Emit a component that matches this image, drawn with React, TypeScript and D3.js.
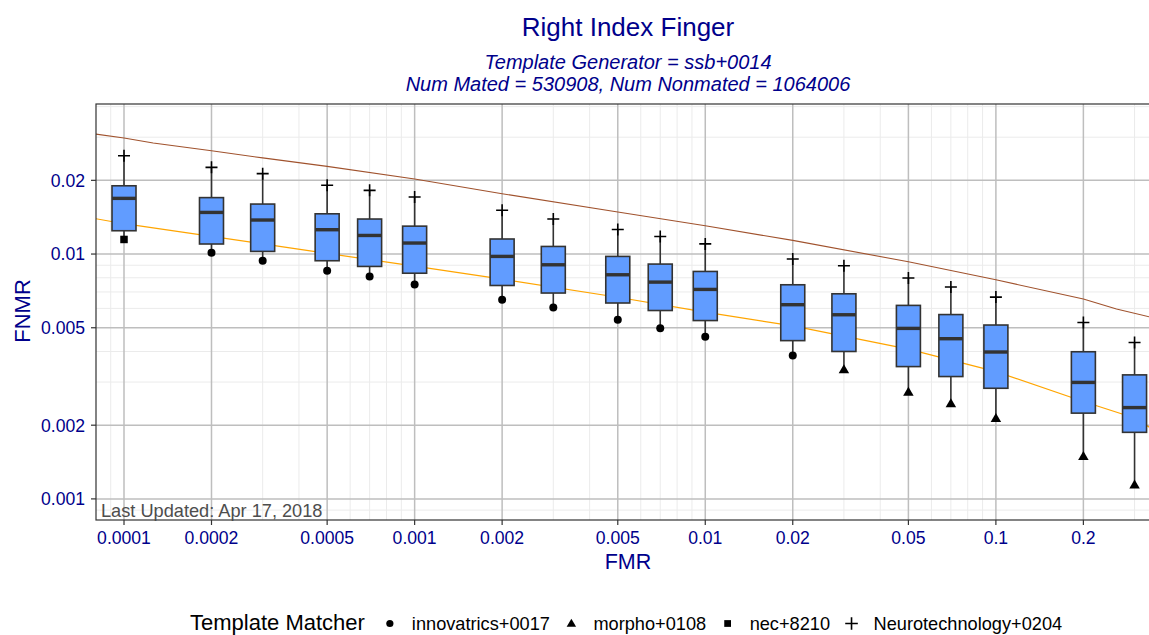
import { useRef, useEffect } from 'react';
import * as d3 from 'd3';

// FMR operating points (one box per point)
const fmr = [0.0001, 0.0002, 0.0003, 0.0005, 0.0007, 0.001, 0.002, 0.003, 0.005, 0.007, 0.01, 0.02, 0.03, 0.05, 0.07, 0.1, 0.2, 0.3];
// FNMR summaries across template matchers
const fnmrMax = [0.0252, 0.0226, 0.0213, 0.0191, 0.0182, 0.0171, 0.0151, 0.0139, 0.0126, 0.0118, 0.0110, 0.00954, 0.00896, 0.00798, 0.00733, 0.00667, 0.00525, 0.00435];
const fnmrQ3 = [0.0190, 0.0170, 0.0160, 0.0146, 0.0139, 0.0130, 0.01152, 0.01074, 0.00978, 0.00910, 0.00849, 0.00749, 0.00688, 0.00617, 0.00566, 0.00513, 0.00399, 0.00321];
const fnmrMedian = [0.01688, 0.01479, 0.01377, 0.01257, 0.01191, 0.01109, 0.00978, 0.00904, 0.00823, 0.00768, 0.00717, 0.00621, 0.00565, 0.00497, 0.00451, 0.00398, 0.00299, 0.00236];
const fnmrQ1 = [0.01245, 0.01099, 0.01025, 0.00939, 0.00890, 0.00835, 0.00744, 0.00693, 0.00631, 0.00588, 0.00535, 0.00443, 0.00400, 0.00347, 0.00316, 0.00283, 0.00224, 0.00187];
const fnmrMin = [0.01147, 0.01012, 0.00939, 0.00855, 0.00810, 0.00751, 0.00650, 0.00605, 0.00539, 0.00498, 0.00459, 0.00385, 0.00337, 0.00273, 0.00245, 0.00213, 0.00149, 0.00114];
const maxMatcher = 'Neurotechnology+0204';
const minMatcher = [
  'nec+8210',
  'innovatrics+0017', 'innovatrics+0017', 'innovatrics+0017', 'innovatrics+0017', 'innovatrics+0017', 'innovatrics+0017',
  'innovatrics+0017', 'innovatrics+0017', 'innovatrics+0017', 'innovatrics+0017', 'innovatrics+0017',
  'morpho+0108', 'morpho+0108', 'morpho+0108', 'morpho+0108', 'morpho+0108', 'morpho+0108',
];

// reference DET curves
const upperFmr = [0.00008, 0.0001, 0.000126, 0.0002, 0.0003, 0.0005, 0.001, 0.002, 0.005, 0.01, 0.02, 0.05, 0.1, 0.2, 0.26, 0.34, 0.37];
const upperFnmr = [0.0309, 0.0298, 0.0284, 0.0264, 0.0247, 0.0228, 0.02025, 0.01764, 0.01484, 0.01305, 0.01137, 0.0093, 0.00785, 0.00655, 0.00596, 0.00553, 0.0054];
const lowerFmr = [0.00008, 0.0001, 0.0002, 0.0003, 0.0005, 0.001, 0.002, 0.005, 0.01, 0.02, 0.05, 0.1, 0.2, 0.3, 0.34, 0.37];
const lowerFnmr = [0.01394, 0.0133, 0.0118, 0.0110, 0.01006, 0.00893, 0.0079, 0.00666, 0.00579, 0.00509, 0.00409, 0.00331, 0.0025, 0.00214, 0.00195, 0.00185];

const xTicks = [0.0001, 0.0002, 0.0005, 0.001, 0.002, 0.005, 0.01, 0.02, 0.05, 0.1, 0.2];
const xTickLabels = ['0.0001', '0.0002', '0.0005', '0.001', '0.002', '0.005', '0.01', '0.02', '0.05', '0.1', '0.2'];
const yTicks = [0.001, 0.002, 0.005, 0.01, 0.02];
const yTickLabels = ['0.001', '0.002', '0.005', '0.01', '0.02'];
const matchers = ['innovatrics+0017', 'morpho+0108', 'nec+8210', 'Neurotechnology+0204'];

const FONT = '"Liberation Sans", Arial, Helvetica, sans-serif';
const BLUE = '#00008B';

function drawShape(g, name, cx, cy, s) {
  if (name === 'innovatrics+0017') {
    g.append('circle').attr('cx', cx).attr('cy', cy).attr('r', 4 * s).attr('fill', '#000');
  } else if (name === 'morpho+0108') {
    const h = 9 * s, w = 10.5 * s;
    g.append('path')
      .attr('d', `M${cx},${cy - h * 0.6}L${cx + w / 2},${cy + h * 0.4}L${cx - w / 2},${cy + h * 0.4}Z`)
      .attr('fill', '#000');
  } else if (name === 'nec+8210') {
    const a = 7.5 * s;
    g.append('rect').attr('x', cx - a / 2).attr('y', cy - a / 2).attr('width', a).attr('height', a).attr('fill', '#000');
  } else {
    const a = 6 * s;
    g.append('path')
      .attr('d', `M${cx - a},${cy}H${cx + a}M${cx},${cy - a}V${cy + a}`)
      .attr('stroke', '#000').attr('stroke-width', 1.6).attr('fill', 'none');
  }
}

export default function App() {
  const ref = useRef(null);

  useEffect(() => {
    const svg = d3.select(ref.current);
    svg.selectAll('*').remove();

    const left = 96, right = 1160, top = 104, bottom = 520;
    const x = d3.scaleLog().domain([8.01e-5, 0.367]).range([left, right]);
    const y = d3.scaleLog().domain([0.00082, 0.041]).range([bottom, top]);

    svg.append('defs').append('clipPath').attr('id', 'panel')
      .append('rect').attr('x', left).attr('y', top).attr('width', right - left).attr('height', bottom - top);

    // grid
    const grid = svg.append('g');
    const minorX = [];
    for (let e = -5; e <= 0; e++) for (let m = 1; m <= 9; m++) {
      const v = m * Math.pow(10, e);
      if (v >= 8.01e-5 && v <= 0.367 && ![1, 2, 5].includes(m)) minorX.push(v);
    }
    const minorY = [];
    for (let e = -4; e <= -1; e++) for (let m = 1; m <= 9; m++) {
      const v = m * Math.pow(10, e);
      if (v >= 0.00082 && v <= 0.041 && ![1, 2, 5].includes(m)) minorY.push(v);
    }
    minorX.forEach(v => grid.append('line').attr('x1', x(v)).attr('x2', x(v)).attr('y1', top).attr('y2', bottom)
      .attr('stroke', '#ebebeb').attr('stroke-width', 1));
    minorY.forEach(v => grid.append('line').attr('x1', left).attr('x2', right).attr('y1', y(v)).attr('y2', y(v))
      .attr('stroke', '#ebebeb').attr('stroke-width', 1));
    xTicks.forEach(v => grid.append('line').attr('x1', x(v)).attr('x2', x(v)).attr('y1', top).attr('y2', bottom)
      .attr('stroke', '#bebebe').attr('stroke-width', 1.5));
    yTicks.forEach(v => grid.append('line').attr('x1', left).attr('x2', right).attr('y1', y(v)).attr('y2', y(v))
      .attr('stroke', '#bebebe').attr('stroke-width', 1.5));

    // reference curves
    const line = d3.line().x(d => x(d[0])).y(d => y(d[1]));
    const lines = svg.append('g').attr('clip-path', 'url(#panel)');
    lines.append('path').attr('d', line(upperFmr.map((v, i) => [v, upperFnmr[i]])))
      .attr('fill', 'none').attr('stroke', '#A0522D').attr('stroke-width', 1.1);
    lines.append('path').attr('d', line(lowerFmr.map((v, i) => [v, lowerFnmr[i]])))
      .attr('fill', 'none').attr('stroke', '#FFA500').attr('stroke-width', 1.2);

    // boxes
    const bw = 24;
    const boxes = svg.append('g');
    fmr.forEach((f, i) => {
      const cx = x(f);
      boxes.append('line').attr('x1', cx).attr('x2', cx).attr('y1', y(fnmrMax[i])).attr('y2', y(fnmrMin[i]))
        .attr('stroke', '#333').attr('stroke-width', 1.6);
      boxes.append('rect').attr('x', cx - bw / 2).attr('y', y(fnmrQ3[i]))
        .attr('width', bw).attr('height', y(fnmrQ1[i]) - y(fnmrQ3[i]))
        .attr('fill', '#619CFF').attr('stroke', '#333').attr('stroke-width', 1.6);
      boxes.append('line').attr('x1', cx - bw / 2).attr('x2', cx + bw / 2)
        .attr('y1', y(fnmrMedian[i])).attr('y2', y(fnmrMedian[i]))
        .attr('stroke', '#333').attr('stroke-width', 3.4);
      drawShape(boxes, maxMatcher, cx, y(fnmrMax[i]), 1);
      drawShape(boxes, minMatcher[i], cx, y(fnmrMin[i]), 1);
    });

    // panel border
    svg.append('rect').attr('x', left).attr('y', top).attr('width', right - left).attr('height', bottom - top)
      .attr('fill', 'none').attr('stroke', '#333').attr('stroke-width', 1.2);

    svg.append('text').attr('x', 101).attr('y', 516.5).attr('font-size', 18.2).attr('fill', '#4d4d4d')
      .attr('font-family', FONT).text('Last Updated: Apr 17, 2018');

    // axes
    const ax = svg.append('g').attr('font-family', FONT);
    xTicks.forEach((v, i) => {
      ax.append('line').attr('x1', x(v)).attr('x2', x(v)).attr('y1', bottom).attr('y2', bottom + 5)
        .attr('stroke', '#333').attr('stroke-width', 1.2);
      ax.append('text').attr('x', x(v)).attr('y', 544).attr('text-anchor', 'middle')
        .attr('font-size', 17.6).attr('fill', BLUE).text(xTickLabels[i]);
    });
    yTicks.forEach((v, i) => {
      ax.append('line').attr('x1', left - 5).attr('x2', left).attr('y1', y(v)).attr('y2', y(v))
        .attr('stroke', '#333').attr('stroke-width', 1.2);
      ax.append('text').attr('x', 85).attr('y', y(v)).attr('dy', '0.36em').attr('text-anchor', 'end')
        .attr('font-size', 17.6).attr('fill', BLUE).text(yTickLabels[i]);
    });
    ax.append('text').attr('x', 628).attr('y', 569).attr('text-anchor', 'middle')
      .attr('font-size', 21.5).attr('fill', BLUE).text('FMR');
    ax.append('text').attr('transform', 'translate(30,311) rotate(-90)').attr('text-anchor', 'middle')
      .attr('font-size', 22).attr('fill', BLUE).text('FNMR');

    // titles
    const t = svg.append('g').attr('font-family', FONT).attr('fill', BLUE).attr('text-anchor', 'middle');
    t.append('text').attr('x', 628).attr('y', 36).attr('font-size', 26).text('Right Index Finger');
    t.append('text').attr('x', 628).attr('y', 69).attr('font-size', 20).attr('font-style', 'italic')
      .text('Template Generator = ssb+0014');
    t.append('text').attr('x', 628).attr('y', 91).attr('font-size', 20).attr('font-style', 'italic')
      .text('Num Mated = 530908, Num Nonmated = 1064006');

    // legend
    const lg = svg.append('g').attr('font-family', FONT);
    const title = lg.append('text').attr('x', 190).attr('y', 630).attr('font-size', 22).attr('fill', '#000')
      .text('Template Matcher');
    let cx = 190 + title.node().getComputedTextLength() + 25;
    matchers.forEach(m => {
      drawShape(lg, m, cx, 623.5, m === 'Neurotechnology+0204' ? 1.05 : 0.9);
      const lab = lg.append('text').attr('x', cx + 22).attr('y', 630).attr('font-size', 18.2).attr('fill', '#000').text(m);
      cx = cx + 22 + lab.node().getComputedTextLength() + 21.5;
    });
  }, []);

  return (
    <div style={{ position: 'absolute', left: 0, top: 0, width: 1149, height: 635, overflow: 'hidden', background: '#fff' }}>
      <svg ref={ref} width={1149} height={635}></svg>
    </div>
  );
}
